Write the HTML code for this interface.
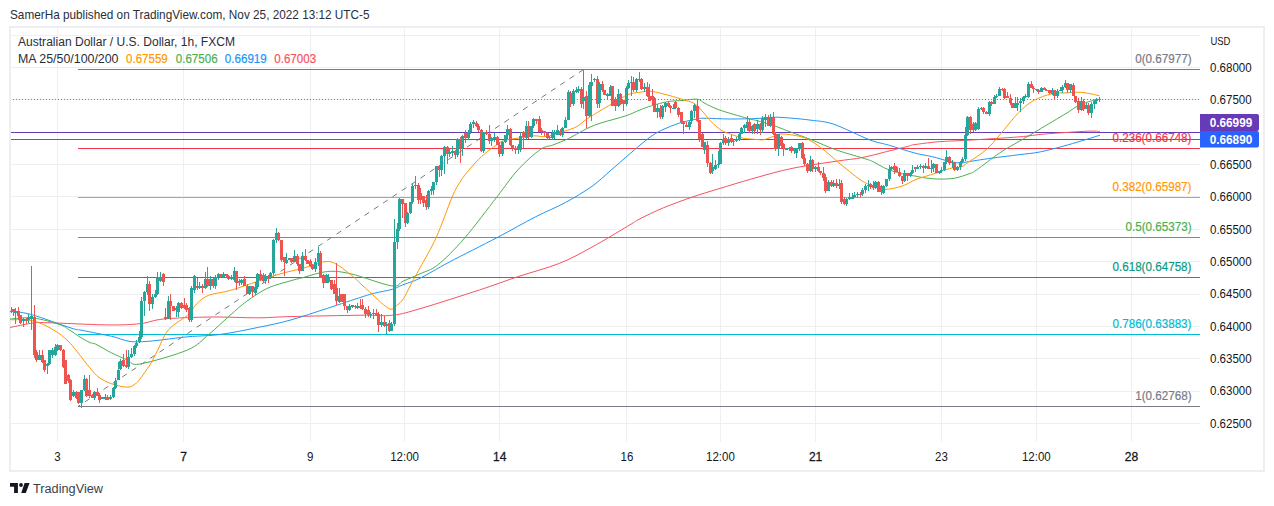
<!DOCTYPE html><html><head><meta charset="utf-8"><style>html,body{margin:0;padding:0;background:#fff;width:1274px;height:506px;overflow:hidden;position:relative}</style></head><body><svg width="1274" height="506" viewBox="0 0 1274 506" style="position:absolute;left:0;top:0">
<rect width="1274" height="506" fill="#fff"/>
<rect x="10" y="27" width="1254" height="444" fill="none" stroke="#eceef3" stroke-width="2"/>
<g stroke="#eeeff1" stroke-width="1">
<line x1="11" y1="35.5" x2="1200" y2="35.5"/>
<line x1="11" y1="67.5" x2="1200" y2="67.5"/>
<line x1="11" y1="99.5" x2="1200" y2="99.5"/>
<line x1="11" y1="132.5" x2="1200" y2="132.5"/>
<line x1="11" y1="164.5" x2="1200" y2="164.5"/>
<line x1="11" y1="196.5" x2="1200" y2="196.5"/>
<line x1="11" y1="229.5" x2="1200" y2="229.5"/>
<line x1="11" y1="261.5" x2="1200" y2="261.5"/>
<line x1="11" y1="294.5" x2="1200" y2="294.5"/>
<line x1="11" y1="326.5" x2="1200" y2="326.5"/>
<line x1="11" y1="358.5" x2="1200" y2="358.5"/>
<line x1="11" y1="391.5" x2="1200" y2="391.5"/>
<line x1="11" y1="423.5" x2="1200" y2="423.5"/>
<line x1="57.5" y1="28" x2="57.5" y2="442"/>
<line x1="183.5" y1="28" x2="183.5" y2="442"/>
<line x1="310.5" y1="28" x2="310.5" y2="442"/>
<line x1="404.5" y1="28" x2="404.5" y2="442"/>
<line x1="499.5" y1="28" x2="499.5" y2="442"/>
<line x1="626.5" y1="28" x2="626.5" y2="442"/>
<line x1="720.5" y1="28" x2="720.5" y2="442"/>
<line x1="815.5" y1="28" x2="815.5" y2="442"/>
<line x1="941.5" y1="28" x2="941.5" y2="442"/>
<line x1="1036.5" y1="28" x2="1036.5" y2="442"/>
<line x1="1131.5" y1="28" x2="1131.5" y2="442"/>
</g>
<line x1="13" y1="99.5" x2="1200" y2="99.5" stroke="#26a69a" stroke-width="1" stroke-dasharray="1,2"/>
<line x1="78" y1="69.5" x2="1200" y2="69.5" stroke="#787b86" stroke-width="1"/>
<line x1="78" y1="148.5" x2="1200" y2="148.5" stroke="#f23645" stroke-width="1"/>
<line x1="78" y1="197.5" x2="1200" y2="197.5" stroke="#ff9800" stroke-width="1"/>
<line x1="78" y1="237.5" x2="1200" y2="237.5" stroke="#4caf50" stroke-width="1"/>
<line x1="78" y1="277.5" x2="1200" y2="277.5" stroke="#089981" stroke-width="1"/>
<line x1="78" y1="334.5" x2="1200" y2="334.5" stroke="#00bcd4" stroke-width="1"/>
<line x1="78" y1="406.5" x2="1200" y2="406.5" stroke="#787b86" stroke-width="1"/>
<line x1="78" y1="406.5" x2="583.5" y2="69.5" stroke="#787b86" stroke-width="1" stroke-dasharray="5.6,5.6" stroke-dashoffset="2.9"/>
<line x1="11" y1="132.5" x2="1200" y2="132.5" stroke="#673ab7" stroke-width="1"/>
<line x1="11" y1="139.5" x2="1200" y2="139.5" stroke="#2962ff" stroke-width="1"/>
<path d="M10.0,327.5 C13.8,326.8 26.8,323.8 33.0,323.0 C39.2,322.2 35.1,322.4 47.4,322.7 C59.7,323.0 91.4,324.7 106.8,324.9 C122.2,325.1 130.5,324.7 140.0,323.7 C149.5,322.7 151.9,320.1 163.7,319.0 C175.5,317.9 195.2,317.2 211.0,317.0 C226.8,316.8 245.4,317.9 258.6,317.8 C271.8,317.7 272.8,317.0 290.0,316.6 C307.2,316.2 344.9,315.4 362.0,315.2 C379.1,315.0 382.8,316.4 392.8,315.2 C402.8,314.0 407.6,312.3 422.0,308.1 C436.4,303.9 463.3,295.2 479.3,290.0 C495.3,284.8 504.5,281.1 517.8,276.7 C531.1,272.3 546.9,268.3 559.3,263.4 C571.7,258.5 580.6,253.3 592.0,247.1 C603.4,240.9 619.5,231.0 627.5,226.3 C635.5,221.6 634.0,221.9 640.0,218.8 C646.0,215.7 655.0,211.3 663.7,207.7 C672.4,204.1 683.0,200.3 692.2,197.1 C701.4,193.9 709.2,191.7 719.0,188.7 C728.8,185.7 740.2,182.2 750.7,179.2 C761.2,176.2 773.1,172.8 782.3,170.6 C791.5,168.4 796.8,167.4 806.0,165.8 C815.2,164.2 828.4,162.4 837.7,161.0 C847.0,159.6 854.2,159.1 862.0,157.6 C869.8,156.1 877.0,154.0 884.7,152.1 C892.4,150.2 903.5,147.4 908.4,146.2 C913.3,145.0 909.1,145.4 914.0,144.7 C918.9,144.0 928.7,142.6 937.7,141.8 C946.7,141.1 954.5,141.0 968.0,140.2 C981.5,139.4 1006.2,137.9 1019.0,136.9 C1031.8,135.9 1033.5,134.9 1044.9,134.0 C1056.3,133.1 1078.4,131.6 1087.6,131.2 C1096.8,130.8 1097.9,131.4 1100.0,131.5" fill="none" stroke="#f7525f" stroke-width="1.0"/>
<path d="M10.0,311.4 C13.5,311.9 20.6,311.6 30.8,314.4 C41.0,317.2 62.3,325.3 71.0,328.0 C79.7,330.7 76.2,329.1 83.0,330.5 C89.8,331.9 102.6,334.4 111.6,336.3 C120.6,338.2 124.4,341.8 137.0,341.9 C149.6,342.0 173.5,338.1 187.4,336.8 C201.3,335.6 208.8,336.0 220.7,334.4 C232.6,332.8 247.1,329.7 258.6,327.3 C270.2,324.9 278.5,323.4 290.0,320.2 C301.5,317.0 315.4,312.2 327.4,308.3 C339.4,304.4 354.2,299.4 362.0,296.9 C369.8,294.4 368.8,294.6 373.9,293.3 C379.0,292.0 388.1,290.6 392.8,289.2 C397.5,287.8 397.8,286.8 402.3,285.0 C406.8,283.2 412.1,282.1 420.0,278.2 C427.9,274.3 436.8,268.7 449.6,261.9 C462.5,255.1 482.8,245.1 497.1,237.6 C511.4,230.1 524.2,222.6 535.6,216.8 C547.0,211.0 555.9,207.7 565.3,202.6 C574.7,197.5 584.4,191.7 592.0,186.3 C599.6,180.9 604.1,176.1 611.2,170.0 C618.3,163.9 627.9,155.4 634.4,149.9 C640.9,144.4 645.4,140.5 650.0,137.2 C654.6,133.9 656.9,132.5 661.9,130.1 C666.9,127.7 674.2,124.8 679.7,123.0 C685.2,121.2 691.1,120.2 695.1,119.4 C699.1,118.6 698.1,118.3 704.0,118.2 C709.9,118.2 721.9,119.0 730.7,119.0 C739.5,119.0 749.8,118.8 757.0,118.5 C764.2,118.2 768.4,117.3 774.0,117.2 C779.6,117.1 784.4,117.6 790.6,118.1 C796.8,118.6 803.8,119.2 811.0,120.2 C818.2,121.2 824.0,121.0 833.7,124.2 C843.4,127.5 860.2,136.2 869.3,139.7 C878.4,143.2 880.7,142.8 888.3,145.0 C895.9,147.2 907.8,151.2 915.0,153.1 C922.2,155.0 926.0,155.2 931.8,156.6 C937.6,158.0 944.7,160.3 949.6,161.4 C954.5,162.5 958.6,163.0 961.4,163.1 C964.2,163.2 961.6,162.8 966.5,162.0 C971.4,161.2 982.0,159.5 990.7,158.3 C999.5,157.1 1010.8,155.8 1019.0,154.7 C1027.2,153.6 1031.9,153.6 1040.2,151.9 C1048.5,150.2 1058.6,147.5 1068.6,144.7 C1078.6,141.9 1094.8,136.8 1100.0,135.2" fill="none" stroke="#2196f3" stroke-width="1.0"/>
<path d="M10.0,319.0 C13.8,318.8 24.8,317.1 33.0,318.0 C41.2,318.9 53.2,322.4 59.3,324.4 C65.4,326.4 66.0,327.9 69.5,330.0 C73.0,332.1 76.6,335.0 80.0,337.1 C83.4,339.2 87.4,341.4 90.0,342.6 C92.6,343.8 92.2,342.5 95.8,344.2 C99.4,345.9 106.3,350.3 111.6,352.9 C116.9,355.5 122.7,358.1 127.4,360.0 C132.1,361.9 130.0,365.7 140.0,364.0 C150.0,362.3 175.9,354.9 187.4,350.0 C198.9,345.1 201.7,340.2 208.8,334.4 C215.9,328.6 223.7,320.9 230.0,315.4 C236.3,309.9 240.5,305.8 246.8,301.2 C253.1,296.6 260.8,291.4 268.0,288.0 C275.2,284.6 284.1,282.8 290.0,281.0 C295.9,279.2 297.5,279.0 303.7,277.4 C309.9,275.8 319.5,272.1 327.4,271.5 C335.3,270.9 340.5,271.5 351.2,273.9 C361.9,276.3 382.8,284.6 391.5,285.8 C400.2,287.0 398.6,283.0 403.4,281.0 C408.1,279.0 414.3,276.5 420.0,273.8 C425.7,271.1 430.4,270.8 437.8,264.9 C445.2,259.0 454.6,249.6 464.5,238.2 C474.4,226.8 488.2,208.1 497.1,196.7 C506.0,185.3 510.6,177.8 517.8,170.0 C524.9,162.2 534.1,153.9 540.0,149.7 C545.9,145.5 548.1,146.9 552.9,145.0 C557.7,143.1 563.4,141.0 568.7,138.5 C574.0,136.0 579.5,132.3 584.5,129.8 C589.5,127.3 592.2,125.9 599.0,123.6 C605.8,121.3 618.5,118.2 625.3,116.0 C632.0,113.8 635.1,111.8 639.5,110.1 C643.9,108.4 646.8,107.2 651.5,105.8 C656.2,104.4 662.5,102.5 667.8,101.6 C673.1,100.7 678.3,100.8 683.2,100.4 C688.1,100.0 693.8,98.7 697.4,99.2 C701.0,99.7 701.3,101.6 705.0,103.4 C708.7,105.2 712.6,107.5 719.6,110.0 C726.6,112.5 741.1,116.5 747.3,118.3 C753.5,120.1 752.5,119.4 757.0,120.6 C761.5,121.8 768.4,123.8 774.0,125.7 C779.6,127.6 784.4,129.7 790.6,132.0 C796.8,134.3 803.4,136.6 811.0,139.6 C818.6,142.6 828.0,147.0 836.5,150.0 C845.0,153.0 855.9,155.9 862.0,157.8 C868.1,159.7 869.1,159.9 872.9,161.6 C876.7,163.3 880.8,166.3 884.7,168.1 C888.7,169.9 892.7,171.1 896.6,172.3 C900.5,173.5 905.3,174.6 908.4,175.2 C911.5,175.8 912.1,175.5 915.0,176.0 C917.9,176.5 921.5,177.5 925.9,178.0 C930.3,178.5 936.4,179.1 941.3,179.1 C946.2,179.1 950.9,178.9 955.5,178.0 C960.1,177.1 965.5,175.1 969.0,173.8 C972.5,172.5 971.4,173.5 976.5,170.0 C981.6,166.5 992.5,157.8 999.6,153.0 C1006.7,148.2 1012.5,145.2 1019.0,141.4 C1025.5,137.6 1030.6,134.7 1038.4,130.0 C1046.2,125.3 1059.8,117.3 1066.0,113.5 C1072.2,109.7 1072.6,108.9 1075.9,107.1 C1079.2,105.3 1082.2,104.1 1085.8,102.7 C1089.4,101.3 1095.6,99.6 1097.6,99.0" fill="none" stroke="#4caf50" stroke-width="1.0"/>
<path d="M10.0,319.7 C13.8,319.9 25.7,319.1 33.0,320.8 C40.3,322.5 47.9,326.6 53.7,330.0 C59.5,333.4 64.0,337.3 68.0,341.0 C72.0,344.7 73.7,347.5 77.4,352.0 C81.1,356.5 86.4,363.8 90.0,368.0 C93.6,372.2 95.4,374.8 99.0,377.4 C102.6,380.0 106.9,382.2 111.6,383.8 C116.3,385.4 123.5,387.2 127.4,387.2 C131.4,387.2 133.2,385.2 135.3,383.8 C137.4,382.4 137.6,382.2 140.0,379.0 C142.4,375.8 147.0,369.5 150.0,364.7 C153.0,359.9 154.7,355.9 157.8,350.0 C160.9,344.1 163.6,335.4 168.5,329.6 C173.4,323.8 182.7,319.8 187.4,315.4 C192.2,311.0 193.4,306.9 197.0,303.5 C200.6,300.1 203.3,297.4 208.8,295.2 C214.3,293.0 221.7,292.9 230.0,290.5 C238.3,288.1 250.3,283.8 258.6,281.0 C266.9,278.2 272.5,276.1 280.0,273.9 C287.5,271.7 296.6,270.0 303.7,268.0 C310.8,266.0 317.5,262.8 322.7,262.0 C327.9,261.2 329.9,261.0 334.6,263.2 C339.4,265.4 346.6,271.4 351.2,275.0 C355.8,278.6 357.8,281.2 362.0,285.0 C366.2,288.8 372.6,294.7 376.2,298.0 C379.8,301.3 380.9,302.7 383.4,304.6 C385.9,306.5 388.9,309.1 391.1,309.3 C393.3,309.5 394.3,307.6 396.4,305.8 C398.5,304.0 401.1,302.1 403.5,298.6 C405.9,295.1 407.9,290.1 410.6,285.0 C413.4,279.9 415.7,275.8 420.0,267.8 C424.3,259.9 431.0,249.1 436.3,237.3 C441.6,225.6 448.1,206.5 452.0,197.3 C455.9,188.1 457.2,186.6 460.0,182.0 C462.8,177.4 465.9,173.8 469.0,170.0 C472.1,166.2 475.2,162.7 478.7,159.3 C482.2,155.9 487.1,151.8 489.8,149.6 C492.5,147.4 492.6,147.6 495.0,146.1 C497.4,144.6 499.4,142.0 503.9,140.6 C508.3,139.2 516.8,138.4 521.7,137.6 C526.6,136.8 529.3,136.0 533.5,135.8 C537.7,135.6 541.9,137.1 547.0,136.4 C552.1,135.7 559.1,133.0 564.0,131.4 C568.9,129.8 572.9,128.7 576.6,126.7 C580.3,124.7 583.5,121.3 586.1,119.5 C588.7,117.7 590.1,117.0 592.4,115.6 C594.7,114.1 596.5,112.9 600.0,110.8 C603.5,108.7 608.8,105.7 613.4,103.0 C618.0,100.3 623.4,96.5 627.7,94.7 C632.1,92.9 635.5,92.8 639.5,92.3 C643.5,91.8 646.8,90.9 651.5,91.4 C656.2,91.9 662.1,93.6 667.8,95.1 C673.5,96.6 681.0,98.9 685.6,100.4 C690.2,101.9 692.0,101.9 695.1,104.0 C698.2,106.1 701.3,110.1 704.0,113.1 C706.7,116.1 708.5,119.0 711.3,121.8 C714.1,124.6 717.8,128.0 721.0,130.1 C724.2,132.2 727.7,133.0 730.7,134.2 C733.7,135.3 736.7,136.3 739.0,137.0 C741.3,137.7 741.5,138.0 744.5,138.4 C747.5,138.8 753.7,139.3 757.0,139.5 C760.3,139.7 761.5,140.2 764.3,139.6 C767.1,139.0 771.5,137.0 774.0,136.1 C776.5,135.2 776.7,134.2 779.5,134.0 C782.3,133.8 786.9,134.2 790.6,134.7 C794.3,135.2 798.2,135.8 801.6,136.8 C805.0,137.9 807.3,138.8 811.0,141.0 C814.7,143.2 819.5,146.5 824.0,150.0 C828.5,153.5 833.5,158.3 837.7,161.9 C842.0,165.5 845.5,168.2 849.5,171.4 C853.5,174.6 858.1,178.6 862.0,181.0 C865.9,183.4 869.1,184.5 872.9,185.9 C876.7,187.3 879.8,189.5 884.7,189.5 C889.6,189.5 897.5,187.5 902.5,185.9 C907.5,184.3 911.1,181.4 915.0,179.8 C918.9,178.2 922.1,177.4 925.9,176.2 C929.7,175.0 933.8,173.9 937.7,172.6 C941.7,171.3 945.7,169.5 949.6,168.5 C953.5,167.5 958.2,167.8 961.4,166.7 C964.6,165.6 965.8,163.9 968.9,161.8 C972.0,159.8 976.4,157.2 980.0,154.5 C983.6,151.8 986.1,150.1 990.2,145.9 C994.3,141.7 999.7,134.8 1004.4,129.3 C1009.1,123.8 1013.9,117.4 1018.6,112.7 C1023.4,108.0 1027.4,104.1 1032.9,100.9 C1038.5,97.7 1046.6,95.0 1051.9,93.7 C1057.2,92.4 1061.7,93.2 1065.0,93.0 C1068.3,92.8 1069.4,92.6 1072.0,92.5 C1074.6,92.4 1077.7,92.1 1080.8,92.3 C1083.9,92.5 1087.6,93.2 1090.7,93.8 C1093.8,94.4 1098.1,95.5 1099.6,95.8" fill="none" stroke="#ff9800" stroke-width="1.0"/>
<clipPath id="pc"><rect x="11" y="28" width="1189" height="414"/></clipPath>
<g shape-rendering="crispEdges" clip-path="url(#pc)">
<rect x="10" y="307" width="1" height="7" fill="#ef5350"/>
<rect x="9" y="307" width="3" height="6" fill="#ef5350"/>
<rect x="13" y="309" width="1" height="7" fill="#ef5350"/>
<rect x="12" y="309" width="3" height="3" fill="#ef5350"/>
<rect x="15" y="308" width="1" height="16" fill="#26a69a"/>
<rect x="14" y="311" width="3" height="2" fill="#26a69a"/>
<rect x="18" y="307" width="1" height="13" fill="#ef5350"/>
<rect x="17" y="311" width="3" height="5" fill="#ef5350"/>
<rect x="20" y="315" width="1" height="9" fill="#ef5350"/>
<rect x="19" y="315" width="3" height="8" fill="#ef5350"/>
<rect x="23" y="318" width="1" height="9" fill="#26a69a"/>
<rect x="22" y="319" width="3" height="2" fill="#26a69a"/>
<rect x="26" y="318" width="1" height="6" fill="#ef5350"/>
<rect x="25" y="319" width="3" height="2" fill="#ef5350"/>
<rect x="28" y="314" width="1" height="9" fill="#26a69a"/>
<rect x="27" y="317" width="3" height="3" fill="#26a69a"/>
<rect x="31" y="266" width="1" height="64" fill="#26a69a"/>
<rect x="30" y="316" width="3" height="3" fill="#26a69a"/>
<rect x="34" y="305" width="1" height="53" fill="#ef5350"/>
<rect x="33" y="317" width="3" height="38" fill="#ef5350"/>
<rect x="36" y="350" width="1" height="12" fill="#ef5350"/>
<rect x="35" y="352" width="3" height="8" fill="#ef5350"/>
<rect x="39" y="350" width="1" height="10" fill="#26a69a"/>
<rect x="38" y="355" width="3" height="5" fill="#26a69a"/>
<rect x="42" y="350" width="1" height="13" fill="#ef5350"/>
<rect x="41" y="355" width="3" height="7" fill="#ef5350"/>
<rect x="44" y="360" width="1" height="12" fill="#ef5350"/>
<rect x="43" y="360" width="3" height="10" fill="#ef5350"/>
<rect x="47" y="363" width="1" height="11" fill="#26a69a"/>
<rect x="46" y="364" width="3" height="2" fill="#26a69a"/>
<rect x="49" y="350" width="1" height="15" fill="#26a69a"/>
<rect x="48" y="350" width="3" height="14" fill="#26a69a"/>
<rect x="52" y="348" width="1" height="10" fill="#26a69a"/>
<rect x="51" y="350" width="3" height="5" fill="#26a69a"/>
<rect x="55" y="344" width="1" height="12" fill="#26a69a"/>
<rect x="54" y="347" width="3" height="8" fill="#26a69a"/>
<rect x="57" y="344" width="1" height="7" fill="#26a69a"/>
<rect x="56" y="345" width="3" height="5" fill="#26a69a"/>
<rect x="60" y="345" width="1" height="6" fill="#ef5350"/>
<rect x="59" y="345" width="3" height="5" fill="#ef5350"/>
<rect x="63" y="349" width="1" height="19" fill="#ef5350"/>
<rect x="62" y="350" width="3" height="17" fill="#ef5350"/>
<rect x="65" y="360" width="1" height="24" fill="#ef5350"/>
<rect x="64" y="360" width="3" height="24" fill="#ef5350"/>
<rect x="68" y="374" width="1" height="9" fill="#ef5350"/>
<rect x="67" y="375" width="3" height="6" fill="#ef5350"/>
<rect x="70" y="379" width="1" height="22" fill="#ef5350"/>
<rect x="69" y="380" width="3" height="20" fill="#ef5350"/>
<rect x="73" y="390" width="1" height="7" fill="#26a69a"/>
<rect x="72" y="392" width="3" height="4" fill="#26a69a"/>
<rect x="76" y="391" width="1" height="8" fill="#ef5350"/>
<rect x="75" y="392" width="3" height="6" fill="#ef5350"/>
<rect x="78" y="392" width="1" height="12" fill="#ef5350"/>
<rect x="77" y="392" width="3" height="11" fill="#ef5350"/>
<rect x="81" y="390" width="1" height="18" fill="#26a69a"/>
<rect x="80" y="390" width="3" height="13" fill="#26a69a"/>
<rect x="84" y="375" width="1" height="16" fill="#26a69a"/>
<rect x="83" y="379" width="3" height="11" fill="#26a69a"/>
<rect x="86" y="378" width="1" height="19" fill="#ef5350"/>
<rect x="85" y="379" width="3" height="17" fill="#ef5350"/>
<rect x="89" y="375" width="1" height="23" fill="#ef5350"/>
<rect x="88" y="390" width="3" height="6" fill="#ef5350"/>
<rect x="92" y="394" width="1" height="4" fill="#ef5350"/>
<rect x="91" y="395" width="3" height="3" fill="#ef5350"/>
<rect x="94" y="391" width="1" height="9" fill="#26a69a"/>
<rect x="93" y="392" width="3" height="6" fill="#26a69a"/>
<rect x="97" y="388" width="1" height="8" fill="#ef5350"/>
<rect x="96" y="392" width="3" height="4" fill="#ef5350"/>
<rect x="99" y="393" width="1" height="10" fill="#ef5350"/>
<rect x="98" y="395" width="3" height="5" fill="#ef5350"/>
<rect x="102" y="397" width="1" height="2" fill="#26a69a"/>
<rect x="101" y="397" width="3" height="2" fill="#26a69a"/>
<rect x="105" y="394" width="1" height="6" fill="#26a69a"/>
<rect x="104" y="397" width="3" height="2" fill="#26a69a"/>
<rect x="107" y="395" width="1" height="5" fill="#ef5350"/>
<rect x="106" y="397" width="3" height="3" fill="#ef5350"/>
<rect x="110" y="395" width="1" height="5" fill="#26a69a"/>
<rect x="109" y="397" width="3" height="2" fill="#26a69a"/>
<rect x="113" y="387" width="1" height="11" fill="#26a69a"/>
<rect x="112" y="388" width="3" height="9" fill="#26a69a"/>
<rect x="115" y="378" width="1" height="11" fill="#26a69a"/>
<rect x="114" y="381" width="3" height="7" fill="#26a69a"/>
<rect x="118" y="362" width="1" height="18" fill="#26a69a"/>
<rect x="117" y="370" width="3" height="10" fill="#26a69a"/>
<rect x="120" y="359" width="1" height="11" fill="#26a69a"/>
<rect x="119" y="361" width="3" height="8" fill="#26a69a"/>
<rect x="123" y="354" width="1" height="13" fill="#ef5350"/>
<rect x="122" y="360" width="3" height="6" fill="#ef5350"/>
<rect x="126" y="350" width="1" height="18" fill="#ef5350"/>
<rect x="125" y="365" width="3" height="2" fill="#ef5350"/>
<rect x="128" y="350" width="1" height="19" fill="#26a69a"/>
<rect x="127" y="357" width="3" height="10" fill="#26a69a"/>
<rect x="131" y="348" width="1" height="10" fill="#26a69a"/>
<rect x="130" y="354" width="3" height="3" fill="#26a69a"/>
<rect x="134" y="345" width="1" height="11" fill="#26a69a"/>
<rect x="133" y="346" width="3" height="8" fill="#26a69a"/>
<rect x="136" y="340" width="1" height="8" fill="#26a69a"/>
<rect x="135" y="343" width="3" height="3" fill="#26a69a"/>
<rect x="139" y="331" width="1" height="12" fill="#26a69a"/>
<rect x="138" y="337" width="3" height="5" fill="#26a69a"/>
<rect x="141" y="297" width="1" height="42" fill="#26a69a"/>
<rect x="140" y="301" width="3" height="36" fill="#26a69a"/>
<rect x="144" y="291" width="1" height="25" fill="#26a69a"/>
<rect x="143" y="292" width="3" height="9" fill="#26a69a"/>
<rect x="147" y="276" width="1" height="19" fill="#26a69a"/>
<rect x="146" y="284" width="3" height="8" fill="#26a69a"/>
<rect x="149" y="281" width="1" height="30" fill="#ef5350"/>
<rect x="148" y="284" width="3" height="20" fill="#ef5350"/>
<rect x="152" y="294" width="1" height="15" fill="#26a69a"/>
<rect x="151" y="297" width="3" height="7" fill="#26a69a"/>
<rect x="155" y="290" width="1" height="8" fill="#26a69a"/>
<rect x="154" y="294" width="3" height="3" fill="#26a69a"/>
<rect x="157" y="272" width="1" height="23" fill="#26a69a"/>
<rect x="156" y="277" width="3" height="17" fill="#26a69a"/>
<rect x="160" y="272" width="1" height="10" fill="#26a69a"/>
<rect x="159" y="277" width="3" height="4" fill="#26a69a"/>
<rect x="163" y="273" width="1" height="13" fill="#ef5350"/>
<rect x="162" y="274" width="3" height="8" fill="#ef5350"/>
<rect x="165" y="308" width="1" height="12" fill="#ef5350"/>
<rect x="164" y="317" width="3" height="2" fill="#ef5350"/>
<rect x="168" y="296" width="1" height="23" fill="#26a69a"/>
<rect x="167" y="301" width="3" height="18" fill="#26a69a"/>
<rect x="170" y="294" width="1" height="26" fill="#ef5350"/>
<rect x="169" y="301" width="3" height="5" fill="#ef5350"/>
<rect x="173" y="306" width="1" height="5" fill="#ef5350"/>
<rect x="172" y="306" width="3" height="5" fill="#ef5350"/>
<rect x="176" y="306" width="1" height="11" fill="#26a69a"/>
<rect x="175" y="308" width="3" height="2" fill="#26a69a"/>
<rect x="178" y="302" width="1" height="15" fill="#26a69a"/>
<rect x="177" y="303" width="3" height="9" fill="#26a69a"/>
<rect x="181" y="302" width="1" height="7" fill="#ef5350"/>
<rect x="180" y="303" width="3" height="5" fill="#ef5350"/>
<rect x="184" y="298" width="1" height="11" fill="#ef5350"/>
<rect x="183" y="305" width="3" height="3" fill="#ef5350"/>
<rect x="186" y="303" width="1" height="9" fill="#ef5350"/>
<rect x="185" y="305" width="3" height="5" fill="#ef5350"/>
<rect x="189" y="307" width="1" height="15" fill="#ef5350"/>
<rect x="188" y="308" width="3" height="12" fill="#ef5350"/>
<rect x="191" y="286" width="1" height="36" fill="#26a69a"/>
<rect x="190" y="288" width="3" height="32" fill="#26a69a"/>
<rect x="194" y="275" width="1" height="18" fill="#26a69a"/>
<rect x="193" y="276" width="3" height="14" fill="#26a69a"/>
<rect x="197" y="278" width="1" height="12" fill="#ef5350"/>
<rect x="196" y="286" width="3" height="2" fill="#ef5350"/>
<rect x="199" y="282" width="1" height="7" fill="#26a69a"/>
<rect x="198" y="286" width="3" height="2" fill="#26a69a"/>
<rect x="202" y="284" width="1" height="9" fill="#ef5350"/>
<rect x="201" y="286" width="3" height="2" fill="#ef5350"/>
<rect x="205" y="272" width="1" height="17" fill="#26a69a"/>
<rect x="204" y="279" width="3" height="9" fill="#26a69a"/>
<rect x="207" y="267" width="1" height="20" fill="#ef5350"/>
<rect x="206" y="279" width="3" height="7" fill="#ef5350"/>
<rect x="210" y="276" width="1" height="14" fill="#26a69a"/>
<rect x="209" y="279" width="3" height="7" fill="#26a69a"/>
<rect x="213" y="278" width="1" height="10" fill="#ef5350"/>
<rect x="212" y="279" width="3" height="7" fill="#ef5350"/>
<rect x="215" y="275" width="1" height="14" fill="#26a69a"/>
<rect x="214" y="277" width="3" height="9" fill="#26a69a"/>
<rect x="218" y="273" width="1" height="7" fill="#26a69a"/>
<rect x="217" y="274" width="3" height="3" fill="#26a69a"/>
<rect x="220" y="274" width="1" height="4" fill="#ef5350"/>
<rect x="219" y="274" width="3" height="3" fill="#ef5350"/>
<rect x="223" y="272" width="1" height="6" fill="#26a69a"/>
<rect x="222" y="274" width="3" height="3" fill="#26a69a"/>
<rect x="226" y="274" width="1" height="4" fill="#ef5350"/>
<rect x="225" y="274" width="3" height="2" fill="#ef5350"/>
<rect x="228" y="275" width="1" height="5" fill="#ef5350"/>
<rect x="227" y="276" width="3" height="3" fill="#ef5350"/>
<rect x="231" y="275" width="1" height="5" fill="#26a69a"/>
<rect x="230" y="277" width="3" height="2" fill="#26a69a"/>
<rect x="234" y="267" width="1" height="15" fill="#26a69a"/>
<rect x="233" y="271" width="3" height="9" fill="#26a69a"/>
<rect x="236" y="271" width="1" height="19" fill="#ef5350"/>
<rect x="235" y="271" width="3" height="12" fill="#ef5350"/>
<rect x="239" y="279" width="1" height="7" fill="#ef5350"/>
<rect x="238" y="281" width="3" height="2" fill="#ef5350"/>
<rect x="241" y="279" width="1" height="6" fill="#26a69a"/>
<rect x="240" y="280" width="3" height="3" fill="#26a69a"/>
<rect x="244" y="276" width="1" height="10" fill="#ef5350"/>
<rect x="243" y="279" width="3" height="7" fill="#ef5350"/>
<rect x="247" y="284" width="1" height="10" fill="#ef5350"/>
<rect x="246" y="286" width="3" height="8" fill="#ef5350"/>
<rect x="249" y="286" width="1" height="9" fill="#26a69a"/>
<rect x="248" y="286" width="3" height="8" fill="#26a69a"/>
<rect x="252" y="286" width="1" height="11" fill="#ef5350"/>
<rect x="251" y="286" width="3" height="6" fill="#ef5350"/>
<rect x="255" y="282" width="1" height="13" fill="#26a69a"/>
<rect x="254" y="287" width="3" height="6" fill="#26a69a"/>
<rect x="257" y="273" width="1" height="16" fill="#26a69a"/>
<rect x="256" y="274" width="3" height="13" fill="#26a69a"/>
<rect x="260" y="270" width="1" height="11" fill="#ef5350"/>
<rect x="259" y="274" width="3" height="6" fill="#ef5350"/>
<rect x="263" y="273" width="1" height="10" fill="#ef5350"/>
<rect x="262" y="275" width="3" height="6" fill="#ef5350"/>
<rect x="265" y="274" width="1" height="10" fill="#26a69a"/>
<rect x="264" y="276" width="3" height="5" fill="#26a69a"/>
<rect x="268" y="275" width="1" height="8" fill="#ef5350"/>
<rect x="267" y="276" width="3" height="3" fill="#ef5350"/>
<rect x="270" y="272" width="1" height="7" fill="#26a69a"/>
<rect x="269" y="273" width="3" height="5" fill="#26a69a"/>
<rect x="273" y="239" width="1" height="36" fill="#26a69a"/>
<rect x="272" y="240" width="3" height="33" fill="#26a69a"/>
<rect x="276" y="228" width="1" height="15" fill="#26a69a"/>
<rect x="275" y="233" width="3" height="7" fill="#26a69a"/>
<rect x="278" y="232" width="1" height="9" fill="#ef5350"/>
<rect x="277" y="233" width="3" height="7" fill="#ef5350"/>
<rect x="281" y="240" width="1" height="22" fill="#ef5350"/>
<rect x="280" y="240" width="3" height="20" fill="#ef5350"/>
<rect x="284" y="257" width="1" height="19" fill="#ef5350"/>
<rect x="283" y="257" width="3" height="5" fill="#ef5350"/>
<rect x="286" y="253" width="1" height="11" fill="#26a69a"/>
<rect x="285" y="260" width="3" height="3" fill="#26a69a"/>
<rect x="289" y="258" width="1" height="2" fill="#26a69a"/>
<rect x="288" y="258" width="3" height="2" fill="#26a69a"/>
<rect x="291" y="258" width="1" height="5" fill="#ef5350"/>
<rect x="290" y="258" width="3" height="4" fill="#ef5350"/>
<rect x="294" y="250" width="1" height="12" fill="#26a69a"/>
<rect x="293" y="256" width="3" height="6" fill="#26a69a"/>
<rect x="297" y="254" width="1" height="12" fill="#ef5350"/>
<rect x="296" y="256" width="3" height="8" fill="#ef5350"/>
<rect x="299" y="264" width="1" height="10" fill="#ef5350"/>
<rect x="298" y="264" width="3" height="7" fill="#ef5350"/>
<rect x="302" y="252" width="1" height="19" fill="#26a69a"/>
<rect x="301" y="256" width="3" height="15" fill="#26a69a"/>
<rect x="305" y="249" width="1" height="12" fill="#ef5350"/>
<rect x="304" y="256" width="3" height="4" fill="#ef5350"/>
<rect x="307" y="260" width="1" height="4" fill="#ef5350"/>
<rect x="306" y="260" width="3" height="4" fill="#ef5350"/>
<rect x="310" y="259" width="1" height="8" fill="#ef5350"/>
<rect x="309" y="261" width="3" height="5" fill="#ef5350"/>
<rect x="312" y="264" width="1" height="6" fill="#ef5350"/>
<rect x="311" y="265" width="3" height="4" fill="#ef5350"/>
<rect x="315" y="258" width="1" height="14" fill="#26a69a"/>
<rect x="314" y="262" width="3" height="7" fill="#26a69a"/>
<rect x="318" y="247" width="1" height="19" fill="#26a69a"/>
<rect x="317" y="253" width="3" height="9" fill="#26a69a"/>
<rect x="320" y="251" width="1" height="27" fill="#ef5350"/>
<rect x="319" y="253" width="3" height="25" fill="#ef5350"/>
<rect x="323" y="274" width="1" height="14" fill="#ef5350"/>
<rect x="322" y="275" width="3" height="8" fill="#ef5350"/>
<rect x="326" y="274" width="1" height="9" fill="#26a69a"/>
<rect x="325" y="275" width="3" height="8" fill="#26a69a"/>
<rect x="328" y="274" width="1" height="9" fill="#26a69a"/>
<rect x="327" y="278" width="3" height="4" fill="#26a69a"/>
<rect x="331" y="280" width="1" height="10" fill="#ef5350"/>
<rect x="330" y="280" width="3" height="9" fill="#ef5350"/>
<rect x="334" y="280" width="1" height="14" fill="#ef5350"/>
<rect x="333" y="284" width="3" height="10" fill="#ef5350"/>
<rect x="336" y="263" width="1" height="42" fill="#ef5350"/>
<rect x="335" y="288" width="3" height="13" fill="#ef5350"/>
<rect x="339" y="288" width="1" height="15" fill="#26a69a"/>
<rect x="338" y="296" width="3" height="6" fill="#26a69a"/>
<rect x="341" y="294" width="1" height="8" fill="#ef5350"/>
<rect x="340" y="294" width="3" height="8" fill="#ef5350"/>
<rect x="344" y="294" width="1" height="16" fill="#ef5350"/>
<rect x="343" y="294" width="3" height="12" fill="#ef5350"/>
<rect x="347" y="306" width="1" height="7" fill="#ef5350"/>
<rect x="346" y="306" width="3" height="4" fill="#ef5350"/>
<rect x="349" y="304" width="1" height="7" fill="#26a69a"/>
<rect x="348" y="306" width="3" height="4" fill="#26a69a"/>
<rect x="352" y="305" width="1" height="3" fill="#26a69a"/>
<rect x="351" y="305" width="3" height="2" fill="#26a69a"/>
<rect x="355" y="305" width="1" height="4" fill="#ef5350"/>
<rect x="354" y="306" width="3" height="1" fill="#ef5350"/>
<rect x="357" y="303" width="1" height="6" fill="#26a69a"/>
<rect x="356" y="306" width="3" height="2" fill="#26a69a"/>
<rect x="360" y="299" width="1" height="10" fill="#ef5350"/>
<rect x="359" y="306" width="3" height="2" fill="#ef5350"/>
<rect x="362" y="299" width="1" height="11" fill="#ef5350"/>
<rect x="361" y="305" width="3" height="4" fill="#ef5350"/>
<rect x="365" y="307" width="1" height="11" fill="#ef5350"/>
<rect x="364" y="309" width="3" height="5" fill="#ef5350"/>
<rect x="368" y="306" width="1" height="11" fill="#ef5350"/>
<rect x="367" y="310" width="3" height="5" fill="#ef5350"/>
<rect x="370" y="312" width="1" height="6" fill="#26a69a"/>
<rect x="369" y="314" width="3" height="1" fill="#26a69a"/>
<rect x="373" y="309" width="1" height="10" fill="#26a69a"/>
<rect x="372" y="313" width="3" height="1" fill="#26a69a"/>
<rect x="376" y="309" width="1" height="7" fill="#ef5350"/>
<rect x="375" y="313" width="3" height="2" fill="#ef5350"/>
<rect x="378" y="312" width="1" height="20" fill="#ef5350"/>
<rect x="377" y="314" width="3" height="11" fill="#ef5350"/>
<rect x="381" y="314" width="1" height="13" fill="#26a69a"/>
<rect x="380" y="322" width="3" height="3" fill="#26a69a"/>
<rect x="384" y="316" width="1" height="11" fill="#ef5350"/>
<rect x="383" y="322" width="3" height="4" fill="#ef5350"/>
<rect x="386" y="322" width="1" height="12" fill="#26a69a"/>
<rect x="385" y="324" width="3" height="2" fill="#26a69a"/>
<rect x="389" y="320" width="1" height="12" fill="#ef5350"/>
<rect x="388" y="323" width="3" height="8" fill="#ef5350"/>
<rect x="391" y="322" width="1" height="9" fill="#26a69a"/>
<rect x="390" y="324" width="3" height="7" fill="#26a69a"/>
<rect x="394" y="219" width="1" height="107" fill="#26a69a"/>
<rect x="393" y="242" width="3" height="82" fill="#26a69a"/>
<rect x="397" y="223" width="1" height="26" fill="#26a69a"/>
<rect x="396" y="229" width="3" height="13" fill="#26a69a"/>
<rect x="399" y="198" width="1" height="33" fill="#26a69a"/>
<rect x="398" y="199" width="3" height="30" fill="#26a69a"/>
<rect x="402" y="199" width="1" height="19" fill="#ef5350"/>
<rect x="401" y="199" width="3" height="5" fill="#ef5350"/>
<rect x="405" y="203" width="1" height="24" fill="#ef5350"/>
<rect x="404" y="203" width="3" height="20" fill="#ef5350"/>
<rect x="407" y="212" width="1" height="12" fill="#26a69a"/>
<rect x="406" y="213" width="3" height="10" fill="#26a69a"/>
<rect x="410" y="202" width="1" height="12" fill="#26a69a"/>
<rect x="409" y="202" width="3" height="11" fill="#26a69a"/>
<rect x="412" y="184" width="1" height="20" fill="#26a69a"/>
<rect x="411" y="186" width="3" height="16" fill="#26a69a"/>
<rect x="415" y="176" width="1" height="13" fill="#26a69a"/>
<rect x="414" y="185" width="3" height="1" fill="#26a69a"/>
<rect x="418" y="183" width="1" height="21" fill="#ef5350"/>
<rect x="417" y="185" width="3" height="15" fill="#ef5350"/>
<rect x="420" y="188" width="1" height="16" fill="#ef5350"/>
<rect x="419" y="193" width="3" height="7" fill="#ef5350"/>
<rect x="423" y="196" width="1" height="11" fill="#ef5350"/>
<rect x="422" y="196" width="3" height="7" fill="#ef5350"/>
<rect x="426" y="195" width="1" height="15" fill="#ef5350"/>
<rect x="425" y="200" width="3" height="7" fill="#ef5350"/>
<rect x="428" y="190" width="1" height="19" fill="#26a69a"/>
<rect x="427" y="191" width="3" height="16" fill="#26a69a"/>
<rect x="431" y="186" width="1" height="9" fill="#26a69a"/>
<rect x="430" y="189" width="3" height="2" fill="#26a69a"/>
<rect x="433" y="182" width="1" height="13" fill="#26a69a"/>
<rect x="432" y="182" width="3" height="8" fill="#26a69a"/>
<rect x="436" y="166" width="1" height="19" fill="#26a69a"/>
<rect x="435" y="166" width="3" height="16" fill="#26a69a"/>
<rect x="439" y="166" width="1" height="11" fill="#ef5350"/>
<rect x="438" y="166" width="3" height="4" fill="#ef5350"/>
<rect x="441" y="155" width="1" height="21" fill="#26a69a"/>
<rect x="440" y="156" width="3" height="14" fill="#26a69a"/>
<rect x="444" y="146" width="1" height="28" fill="#26a69a"/>
<rect x="443" y="147" width="3" height="9" fill="#26a69a"/>
<rect x="447" y="146" width="1" height="18" fill="#ef5350"/>
<rect x="446" y="147" width="3" height="7" fill="#ef5350"/>
<rect x="449" y="148" width="1" height="9" fill="#26a69a"/>
<rect x="448" y="152" width="3" height="2" fill="#26a69a"/>
<rect x="452" y="146" width="1" height="10" fill="#26a69a"/>
<rect x="451" y="151" width="3" height="2" fill="#26a69a"/>
<rect x="455" y="150" width="1" height="9" fill="#ef5350"/>
<rect x="454" y="151" width="3" height="4" fill="#ef5350"/>
<rect x="457" y="138" width="1" height="19" fill="#26a69a"/>
<rect x="456" y="139" width="3" height="16" fill="#26a69a"/>
<rect x="460" y="137" width="1" height="26" fill="#ef5350"/>
<rect x="459" y="139" width="3" height="9" fill="#ef5350"/>
<rect x="462" y="135" width="1" height="21" fill="#26a69a"/>
<rect x="461" y="136" width="3" height="12" fill="#26a69a"/>
<rect x="465" y="130" width="1" height="13" fill="#ef5350"/>
<rect x="464" y="133" width="3" height="5" fill="#ef5350"/>
<rect x="468" y="130" width="1" height="10" fill="#26a69a"/>
<rect x="467" y="132" width="3" height="6" fill="#26a69a"/>
<rect x="470" y="122" width="1" height="12" fill="#26a69a"/>
<rect x="469" y="124" width="3" height="8" fill="#26a69a"/>
<rect x="473" y="120" width="1" height="8" fill="#26a69a"/>
<rect x="472" y="122" width="3" height="2" fill="#26a69a"/>
<rect x="476" y="121" width="1" height="6" fill="#ef5350"/>
<rect x="475" y="123" width="3" height="3" fill="#ef5350"/>
<rect x="478" y="124" width="1" height="8" fill="#ef5350"/>
<rect x="477" y="126" width="3" height="4" fill="#ef5350"/>
<rect x="481" y="129" width="1" height="23" fill="#ef5350"/>
<rect x="480" y="130" width="3" height="21" fill="#ef5350"/>
<rect x="483" y="132" width="1" height="21" fill="#26a69a"/>
<rect x="482" y="132" width="3" height="19" fill="#26a69a"/>
<rect x="486" y="130" width="1" height="5" fill="#ef5350"/>
<rect x="485" y="132" width="3" height="2" fill="#ef5350"/>
<rect x="489" y="125" width="1" height="19" fill="#ef5350"/>
<rect x="488" y="134" width="3" height="7" fill="#ef5350"/>
<rect x="491" y="137" width="1" height="9" fill="#26a69a"/>
<rect x="490" y="138" width="3" height="3" fill="#26a69a"/>
<rect x="494" y="133" width="1" height="9" fill="#26a69a"/>
<rect x="493" y="137" width="3" height="2" fill="#26a69a"/>
<rect x="497" y="136" width="1" height="9" fill="#ef5350"/>
<rect x="496" y="137" width="3" height="8" fill="#ef5350"/>
<rect x="499" y="142" width="1" height="15" fill="#ef5350"/>
<rect x="498" y="145" width="3" height="9" fill="#ef5350"/>
<rect x="502" y="141" width="1" height="15" fill="#26a69a"/>
<rect x="501" y="142" width="3" height="12" fill="#26a69a"/>
<rect x="505" y="135" width="1" height="8" fill="#26a69a"/>
<rect x="504" y="135" width="3" height="7" fill="#26a69a"/>
<rect x="507" y="125" width="1" height="14" fill="#26a69a"/>
<rect x="506" y="129" width="3" height="6" fill="#26a69a"/>
<rect x="510" y="128" width="1" height="18" fill="#ef5350"/>
<rect x="509" y="129" width="3" height="16" fill="#ef5350"/>
<rect x="512" y="145" width="1" height="6" fill="#ef5350"/>
<rect x="511" y="145" width="3" height="3" fill="#ef5350"/>
<rect x="515" y="146" width="1" height="8" fill="#ef5350"/>
<rect x="514" y="148" width="3" height="2" fill="#ef5350"/>
<rect x="518" y="144" width="1" height="10" fill="#26a69a"/>
<rect x="517" y="146" width="3" height="4" fill="#26a69a"/>
<rect x="520" y="132" width="1" height="20" fill="#26a69a"/>
<rect x="519" y="136" width="3" height="14" fill="#26a69a"/>
<rect x="523" y="131" width="1" height="17" fill="#ef5350"/>
<rect x="522" y="132" width="3" height="5" fill="#ef5350"/>
<rect x="526" y="121" width="1" height="19" fill="#26a69a"/>
<rect x="525" y="126" width="3" height="12" fill="#26a69a"/>
<rect x="528" y="121" width="1" height="18" fill="#ef5350"/>
<rect x="527" y="126" width="3" height="11" fill="#ef5350"/>
<rect x="531" y="126" width="1" height="12" fill="#26a69a"/>
<rect x="530" y="126" width="3" height="11" fill="#26a69a"/>
<rect x="533" y="118" width="1" height="10" fill="#26a69a"/>
<rect x="532" y="119" width="3" height="7" fill="#26a69a"/>
<rect x="536" y="119" width="1" height="5" fill="#ef5350"/>
<rect x="535" y="119" width="3" height="2" fill="#ef5350"/>
<rect x="539" y="116" width="1" height="16" fill="#ef5350"/>
<rect x="538" y="119" width="3" height="13" fill="#ef5350"/>
<rect x="541" y="128" width="1" height="7" fill="#ef5350"/>
<rect x="540" y="130" width="3" height="2" fill="#ef5350"/>
<rect x="544" y="131" width="1" height="5" fill="#ef5350"/>
<rect x="543" y="131" width="3" height="2" fill="#ef5350"/>
<rect x="547" y="132" width="1" height="8" fill="#ef5350"/>
<rect x="546" y="133" width="3" height="5" fill="#ef5350"/>
<rect x="549" y="136" width="1" height="3" fill="#ef5350"/>
<rect x="548" y="137" width="3" height="1" fill="#ef5350"/>
<rect x="552" y="130" width="1" height="10" fill="#26a69a"/>
<rect x="551" y="133" width="3" height="5" fill="#26a69a"/>
<rect x="554" y="130" width="1" height="9" fill="#26a69a"/>
<rect x="553" y="132" width="3" height="2" fill="#26a69a"/>
<rect x="557" y="125" width="1" height="10" fill="#26a69a"/>
<rect x="556" y="130" width="3" height="5" fill="#26a69a"/>
<rect x="560" y="129" width="1" height="7" fill="#ef5350"/>
<rect x="559" y="131" width="3" height="4" fill="#ef5350"/>
<rect x="562" y="127" width="1" height="10" fill="#26a69a"/>
<rect x="561" y="128" width="3" height="7" fill="#26a69a"/>
<rect x="565" y="117" width="1" height="11" fill="#26a69a"/>
<rect x="564" y="120" width="3" height="8" fill="#26a69a"/>
<rect x="568" y="90" width="1" height="30" fill="#26a69a"/>
<rect x="567" y="92" width="3" height="28" fill="#26a69a"/>
<rect x="570" y="91" width="1" height="16" fill="#ef5350"/>
<rect x="569" y="93" width="3" height="11" fill="#ef5350"/>
<rect x="573" y="89" width="1" height="17" fill="#26a69a"/>
<rect x="572" y="91" width="3" height="13" fill="#26a69a"/>
<rect x="576" y="87" width="1" height="6" fill="#26a69a"/>
<rect x="575" y="90" width="3" height="2" fill="#26a69a"/>
<rect x="578" y="86" width="1" height="7" fill="#26a69a"/>
<rect x="577" y="89" width="3" height="2" fill="#26a69a"/>
<rect x="581" y="87" width="1" height="21" fill="#ef5350"/>
<rect x="580" y="89" width="3" height="15" fill="#ef5350"/>
<rect x="583" y="69" width="1" height="40" fill="#26a69a"/>
<rect x="582" y="97" width="3" height="4" fill="#26a69a"/>
<rect x="586" y="91" width="1" height="37" fill="#ef5350"/>
<rect x="585" y="96" width="3" height="20" fill="#ef5350"/>
<rect x="589" y="82" width="1" height="35" fill="#26a69a"/>
<rect x="588" y="85" width="3" height="31" fill="#26a69a"/>
<rect x="591" y="74" width="1" height="47" fill="#26a69a"/>
<rect x="590" y="82" width="3" height="4" fill="#26a69a"/>
<rect x="594" y="78" width="1" height="4" fill="#26a69a"/>
<rect x="593" y="79" width="3" height="1" fill="#26a69a"/>
<rect x="597" y="76" width="1" height="32" fill="#ef5350"/>
<rect x="596" y="79" width="3" height="25" fill="#ef5350"/>
<rect x="599" y="82" width="1" height="26" fill="#26a69a"/>
<rect x="598" y="84" width="3" height="19" fill="#26a69a"/>
<rect x="602" y="81" width="1" height="11" fill="#ef5350"/>
<rect x="601" y="84" width="3" height="6" fill="#ef5350"/>
<rect x="604" y="90" width="1" height="5" fill="#ef5350"/>
<rect x="603" y="90" width="3" height="5" fill="#ef5350"/>
<rect x="607" y="93" width="1" height="6" fill="#26a69a"/>
<rect x="606" y="94" width="3" height="2" fill="#26a69a"/>
<rect x="610" y="85" width="1" height="11" fill="#26a69a"/>
<rect x="609" y="87" width="3" height="9" fill="#26a69a"/>
<rect x="612" y="86" width="1" height="20" fill="#ef5350"/>
<rect x="611" y="86" width="3" height="20" fill="#ef5350"/>
<rect x="615" y="97" width="1" height="14" fill="#ef5350"/>
<rect x="614" y="99" width="3" height="7" fill="#ef5350"/>
<rect x="618" y="89" width="1" height="18" fill="#26a69a"/>
<rect x="617" y="94" width="3" height="12" fill="#26a69a"/>
<rect x="620" y="93" width="1" height="12" fill="#ef5350"/>
<rect x="619" y="94" width="3" height="10" fill="#ef5350"/>
<rect x="623" y="100" width="1" height="11" fill="#ef5350"/>
<rect x="622" y="100" width="3" height="4" fill="#ef5350"/>
<rect x="626" y="86" width="1" height="20" fill="#26a69a"/>
<rect x="625" y="88" width="3" height="16" fill="#26a69a"/>
<rect x="628" y="80" width="1" height="9" fill="#26a69a"/>
<rect x="627" y="83" width="3" height="5" fill="#26a69a"/>
<rect x="631" y="76" width="1" height="20" fill="#26a69a"/>
<rect x="630" y="82" width="3" height="1" fill="#26a69a"/>
<rect x="633" y="77" width="1" height="15" fill="#ef5350"/>
<rect x="632" y="82" width="3" height="8" fill="#ef5350"/>
<rect x="636" y="78" width="1" height="14" fill="#26a69a"/>
<rect x="635" y="79" width="3" height="11" fill="#26a69a"/>
<rect x="639" y="72" width="1" height="10" fill="#26a69a"/>
<rect x="638" y="79" width="3" height="1" fill="#26a69a"/>
<rect x="641" y="78" width="1" height="12" fill="#ef5350"/>
<rect x="640" y="79" width="3" height="10" fill="#ef5350"/>
<rect x="644" y="83" width="1" height="9" fill="#26a69a"/>
<rect x="643" y="87" width="3" height="2" fill="#26a69a"/>
<rect x="647" y="82" width="1" height="15" fill="#ef5350"/>
<rect x="646" y="87" width="3" height="9" fill="#ef5350"/>
<rect x="649" y="84" width="1" height="17" fill="#ef5350"/>
<rect x="648" y="96" width="3" height="5" fill="#ef5350"/>
<rect x="652" y="89" width="1" height="16" fill="#ef5350"/>
<rect x="651" y="96" width="3" height="4" fill="#ef5350"/>
<rect x="654" y="97" width="1" height="15" fill="#ef5350"/>
<rect x="653" y="98" width="3" height="14" fill="#ef5350"/>
<rect x="657" y="104" width="1" height="14" fill="#26a69a"/>
<rect x="656" y="108" width="3" height="4" fill="#26a69a"/>
<rect x="660" y="105" width="1" height="14" fill="#ef5350"/>
<rect x="659" y="108" width="3" height="9" fill="#ef5350"/>
<rect x="662" y="105" width="1" height="14" fill="#26a69a"/>
<rect x="661" y="106" width="3" height="11" fill="#26a69a"/>
<rect x="665" y="102" width="1" height="10" fill="#26a69a"/>
<rect x="664" y="103" width="3" height="4" fill="#26a69a"/>
<rect x="668" y="101" width="1" height="6" fill="#ef5350"/>
<rect x="667" y="103" width="3" height="3" fill="#ef5350"/>
<rect x="670" y="105" width="1" height="8" fill="#ef5350"/>
<rect x="669" y="106" width="3" height="2" fill="#ef5350"/>
<rect x="673" y="104" width="1" height="5" fill="#26a69a"/>
<rect x="672" y="108" width="3" height="1" fill="#26a69a"/>
<rect x="675" y="101" width="1" height="8" fill="#ef5350"/>
<rect x="674" y="102" width="3" height="6" fill="#ef5350"/>
<rect x="678" y="107" width="1" height="10" fill="#ef5350"/>
<rect x="677" y="108" width="3" height="7" fill="#ef5350"/>
<rect x="681" y="112" width="1" height="12" fill="#ef5350"/>
<rect x="680" y="112" width="3" height="10" fill="#ef5350"/>
<rect x="683" y="121" width="1" height="13" fill="#ef5350"/>
<rect x="682" y="122" width="3" height="2" fill="#ef5350"/>
<rect x="686" y="122" width="1" height="5" fill="#ef5350"/>
<rect x="685" y="125" width="3" height="2" fill="#ef5350"/>
<rect x="689" y="121" width="1" height="9" fill="#26a69a"/>
<rect x="688" y="122" width="3" height="5" fill="#26a69a"/>
<rect x="691" y="110" width="1" height="14" fill="#26a69a"/>
<rect x="690" y="111" width="3" height="10" fill="#26a69a"/>
<rect x="694" y="104" width="1" height="14" fill="#26a69a"/>
<rect x="693" y="105" width="3" height="6" fill="#26a69a"/>
<rect x="697" y="100" width="1" height="22" fill="#ef5350"/>
<rect x="696" y="106" width="3" height="15" fill="#ef5350"/>
<rect x="699" y="120" width="1" height="22" fill="#ef5350"/>
<rect x="698" y="120" width="3" height="19" fill="#ef5350"/>
<rect x="702" y="133" width="1" height="14" fill="#ef5350"/>
<rect x="701" y="134" width="3" height="13" fill="#ef5350"/>
<rect x="704" y="142" width="1" height="12" fill="#26a69a"/>
<rect x="703" y="142" width="3" height="8" fill="#26a69a"/>
<rect x="707" y="141" width="1" height="26" fill="#ef5350"/>
<rect x="706" y="145" width="3" height="18" fill="#ef5350"/>
<rect x="710" y="162" width="1" height="12" fill="#ef5350"/>
<rect x="709" y="163" width="3" height="10" fill="#ef5350"/>
<rect x="712" y="154" width="1" height="20" fill="#26a69a"/>
<rect x="711" y="167" width="3" height="4" fill="#26a69a"/>
<rect x="715" y="160" width="1" height="10" fill="#26a69a"/>
<rect x="714" y="165" width="3" height="4" fill="#26a69a"/>
<rect x="718" y="151" width="1" height="17" fill="#26a69a"/>
<rect x="717" y="164" width="3" height="1" fill="#26a69a"/>
<rect x="720" y="142" width="1" height="22" fill="#26a69a"/>
<rect x="719" y="143" width="3" height="21" fill="#26a69a"/>
<rect x="723" y="134" width="1" height="11" fill="#26a69a"/>
<rect x="722" y="139" width="3" height="4" fill="#26a69a"/>
<rect x="725" y="136" width="1" height="9" fill="#ef5350"/>
<rect x="724" y="138" width="3" height="5" fill="#ef5350"/>
<rect x="728" y="137" width="1" height="9" fill="#26a69a"/>
<rect x="727" y="139" width="3" height="4" fill="#26a69a"/>
<rect x="731" y="135" width="1" height="8" fill="#ef5350"/>
<rect x="730" y="138" width="3" height="4" fill="#ef5350"/>
<rect x="733" y="140" width="1" height="6" fill="#26a69a"/>
<rect x="732" y="141" width="3" height="1" fill="#26a69a"/>
<rect x="736" y="137" width="1" height="5" fill="#26a69a"/>
<rect x="735" y="139" width="3" height="2" fill="#26a69a"/>
<rect x="739" y="132" width="1" height="9" fill="#26a69a"/>
<rect x="738" y="134" width="3" height="6" fill="#26a69a"/>
<rect x="741" y="127" width="1" height="7" fill="#26a69a"/>
<rect x="740" y="128" width="3" height="6" fill="#26a69a"/>
<rect x="744" y="124" width="1" height="9" fill="#26a69a"/>
<rect x="743" y="125" width="3" height="3" fill="#26a69a"/>
<rect x="747" y="116" width="1" height="15" fill="#26a69a"/>
<rect x="746" y="122" width="3" height="6" fill="#26a69a"/>
<rect x="749" y="119" width="1" height="14" fill="#ef5350"/>
<rect x="748" y="122" width="3" height="9" fill="#ef5350"/>
<rect x="752" y="125" width="1" height="9" fill="#26a69a"/>
<rect x="751" y="126" width="3" height="5" fill="#26a69a"/>
<rect x="754" y="123" width="1" height="11" fill="#ef5350"/>
<rect x="753" y="124" width="3" height="7" fill="#ef5350"/>
<rect x="757" y="120" width="1" height="14" fill="#26a69a"/>
<rect x="756" y="124" width="3" height="5" fill="#26a69a"/>
<rect x="760" y="123" width="1" height="12" fill="#ef5350"/>
<rect x="759" y="124" width="3" height="6" fill="#ef5350"/>
<rect x="762" y="116" width="1" height="17" fill="#26a69a"/>
<rect x="761" y="118" width="3" height="12" fill="#26a69a"/>
<rect x="765" y="114" width="1" height="13" fill="#26a69a"/>
<rect x="764" y="117" width="3" height="3" fill="#26a69a"/>
<rect x="768" y="115" width="1" height="11" fill="#ef5350"/>
<rect x="767" y="117" width="3" height="9" fill="#ef5350"/>
<rect x="770" y="114" width="1" height="13" fill="#26a69a"/>
<rect x="769" y="117" width="3" height="9" fill="#26a69a"/>
<rect x="773" y="112" width="1" height="23" fill="#ef5350"/>
<rect x="772" y="117" width="3" height="17" fill="#ef5350"/>
<rect x="775" y="132" width="1" height="19" fill="#ef5350"/>
<rect x="774" y="134" width="3" height="15" fill="#ef5350"/>
<rect x="778" y="134" width="1" height="22" fill="#26a69a"/>
<rect x="777" y="134" width="3" height="15" fill="#26a69a"/>
<rect x="781" y="136" width="1" height="13" fill="#ef5350"/>
<rect x="780" y="137" width="3" height="9" fill="#ef5350"/>
<rect x="783" y="143" width="1" height="13" fill="#ef5350"/>
<rect x="782" y="144" width="3" height="4" fill="#ef5350"/>
<rect x="786" y="148" width="1" height="2" fill="#26a69a"/>
<rect x="785" y="148" width="3" height="2" fill="#26a69a"/>
<rect x="789" y="147" width="1" height="4" fill="#26a69a"/>
<rect x="788" y="148" width="3" height="1" fill="#26a69a"/>
<rect x="791" y="146" width="1" height="7" fill="#ef5350"/>
<rect x="790" y="147" width="3" height="4" fill="#ef5350"/>
<rect x="794" y="148" width="1" height="6" fill="#26a69a"/>
<rect x="793" y="149" width="3" height="2" fill="#26a69a"/>
<rect x="796" y="148" width="1" height="10" fill="#26a69a"/>
<rect x="795" y="149" width="3" height="4" fill="#26a69a"/>
<rect x="799" y="143" width="1" height="8" fill="#26a69a"/>
<rect x="798" y="143" width="3" height="6" fill="#26a69a"/>
<rect x="802" y="142" width="1" height="17" fill="#ef5350"/>
<rect x="801" y="143" width="3" height="15" fill="#ef5350"/>
<rect x="804" y="154" width="1" height="12" fill="#ef5350"/>
<rect x="803" y="158" width="3" height="6" fill="#ef5350"/>
<rect x="807" y="163" width="1" height="10" fill="#ef5350"/>
<rect x="806" y="164" width="3" height="7" fill="#ef5350"/>
<rect x="810" y="156" width="1" height="16" fill="#26a69a"/>
<rect x="809" y="160" width="3" height="11" fill="#26a69a"/>
<rect x="812" y="159" width="1" height="13" fill="#ef5350"/>
<rect x="811" y="160" width="3" height="9" fill="#ef5350"/>
<rect x="815" y="166" width="1" height="6" fill="#26a69a"/>
<rect x="814" y="167" width="3" height="2" fill="#26a69a"/>
<rect x="818" y="162" width="1" height="10" fill="#ef5350"/>
<rect x="817" y="167" width="3" height="4" fill="#ef5350"/>
<rect x="820" y="171" width="1" height="4" fill="#ef5350"/>
<rect x="819" y="171" width="3" height="2" fill="#ef5350"/>
<rect x="823" y="167" width="1" height="14" fill="#ef5350"/>
<rect x="822" y="173" width="3" height="5" fill="#ef5350"/>
<rect x="825" y="174" width="1" height="19" fill="#ef5350"/>
<rect x="824" y="177" width="3" height="14" fill="#ef5350"/>
<rect x="828" y="180" width="1" height="11" fill="#26a69a"/>
<rect x="827" y="182" width="3" height="9" fill="#26a69a"/>
<rect x="831" y="180" width="1" height="7" fill="#ef5350"/>
<rect x="830" y="182" width="3" height="4" fill="#ef5350"/>
<rect x="833" y="180" width="1" height="7" fill="#26a69a"/>
<rect x="832" y="183" width="3" height="3" fill="#26a69a"/>
<rect x="836" y="179" width="1" height="9" fill="#ef5350"/>
<rect x="835" y="183" width="3" height="3" fill="#ef5350"/>
<rect x="839" y="179" width="1" height="10" fill="#26a69a"/>
<rect x="838" y="184" width="3" height="2" fill="#26a69a"/>
<rect x="841" y="180" width="1" height="24" fill="#ef5350"/>
<rect x="840" y="183" width="3" height="19" fill="#ef5350"/>
<rect x="844" y="197" width="1" height="8" fill="#ef5350"/>
<rect x="843" y="199" width="3" height="5" fill="#ef5350"/>
<rect x="846" y="198" width="1" height="8" fill="#26a69a"/>
<rect x="845" y="199" width="3" height="5" fill="#26a69a"/>
<rect x="849" y="193" width="1" height="7" fill="#26a69a"/>
<rect x="848" y="197" width="3" height="2" fill="#26a69a"/>
<rect x="852" y="193" width="1" height="6" fill="#26a69a"/>
<rect x="851" y="197" width="3" height="2" fill="#26a69a"/>
<rect x="854" y="192" width="1" height="6" fill="#26a69a"/>
<rect x="853" y="195" width="3" height="2" fill="#26a69a"/>
<rect x="857" y="192" width="1" height="6" fill="#26a69a"/>
<rect x="856" y="194" width="3" height="1" fill="#26a69a"/>
<rect x="860" y="192" width="1" height="5" fill="#ef5350"/>
<rect x="859" y="194" width="3" height="1" fill="#ef5350"/>
<rect x="862" y="188" width="1" height="8" fill="#26a69a"/>
<rect x="861" y="190" width="3" height="4" fill="#26a69a"/>
<rect x="865" y="184" width="1" height="9" fill="#26a69a"/>
<rect x="864" y="186" width="3" height="4" fill="#26a69a"/>
<rect x="868" y="180" width="1" height="11" fill="#26a69a"/>
<rect x="867" y="185" width="3" height="1" fill="#26a69a"/>
<rect x="870" y="183" width="1" height="6" fill="#ef5350"/>
<rect x="869" y="184" width="3" height="3" fill="#ef5350"/>
<rect x="873" y="181" width="1" height="9" fill="#ef5350"/>
<rect x="872" y="185" width="3" height="3" fill="#ef5350"/>
<rect x="875" y="181" width="1" height="8" fill="#26a69a"/>
<rect x="874" y="182" width="3" height="6" fill="#26a69a"/>
<rect x="878" y="181" width="1" height="11" fill="#ef5350"/>
<rect x="877" y="182" width="3" height="10" fill="#ef5350"/>
<rect x="881" y="185" width="1" height="10" fill="#ef5350"/>
<rect x="880" y="186" width="3" height="6" fill="#ef5350"/>
<rect x="883" y="185" width="1" height="9" fill="#26a69a"/>
<rect x="882" y="186" width="3" height="7" fill="#26a69a"/>
<rect x="886" y="179" width="1" height="8" fill="#26a69a"/>
<rect x="885" y="179" width="3" height="7" fill="#26a69a"/>
<rect x="889" y="165" width="1" height="16" fill="#26a69a"/>
<rect x="888" y="169" width="3" height="10" fill="#26a69a"/>
<rect x="891" y="166" width="1" height="4" fill="#26a69a"/>
<rect x="890" y="167" width="3" height="2" fill="#26a69a"/>
<rect x="894" y="163" width="1" height="11" fill="#ef5350"/>
<rect x="893" y="166" width="3" height="4" fill="#ef5350"/>
<rect x="896" y="166" width="1" height="6" fill="#ef5350"/>
<rect x="895" y="167" width="3" height="5" fill="#ef5350"/>
<rect x="899" y="168" width="1" height="9" fill="#ef5350"/>
<rect x="898" y="172" width="3" height="4" fill="#ef5350"/>
<rect x="902" y="176" width="1" height="8" fill="#ef5350"/>
<rect x="901" y="176" width="3" height="5" fill="#ef5350"/>
<rect x="904" y="170" width="1" height="12" fill="#26a69a"/>
<rect x="903" y="173" width="3" height="8" fill="#26a69a"/>
<rect x="907" y="173" width="1" height="8" fill="#ef5350"/>
<rect x="906" y="173" width="3" height="3" fill="#ef5350"/>
<rect x="910" y="172" width="1" height="5" fill="#26a69a"/>
<rect x="909" y="173" width="3" height="3" fill="#26a69a"/>
<rect x="912" y="165" width="1" height="9" fill="#26a69a"/>
<rect x="911" y="170" width="3" height="3" fill="#26a69a"/>
<rect x="915" y="167" width="1" height="5" fill="#ef5350"/>
<rect x="914" y="167" width="3" height="2" fill="#ef5350"/>
<rect x="917" y="165" width="1" height="4" fill="#26a69a"/>
<rect x="916" y="167" width="3" height="2" fill="#26a69a"/>
<rect x="920" y="164" width="1" height="5" fill="#26a69a"/>
<rect x="919" y="166" width="3" height="1" fill="#26a69a"/>
<rect x="923" y="165" width="1" height="8" fill="#ef5350"/>
<rect x="922" y="166" width="3" height="2" fill="#ef5350"/>
<rect x="925" y="163" width="1" height="6" fill="#26a69a"/>
<rect x="924" y="166" width="3" height="2" fill="#26a69a"/>
<rect x="928" y="158" width="1" height="11" fill="#ef5350"/>
<rect x="927" y="166" width="3" height="3" fill="#ef5350"/>
<rect x="931" y="160" width="1" height="13" fill="#26a69a"/>
<rect x="930" y="168" width="3" height="1" fill="#26a69a"/>
<rect x="933" y="163" width="1" height="9" fill="#26a69a"/>
<rect x="932" y="164" width="3" height="4" fill="#26a69a"/>
<rect x="936" y="164" width="1" height="9" fill="#ef5350"/>
<rect x="935" y="164" width="3" height="9" fill="#ef5350"/>
<rect x="939" y="171" width="1" height="3" fill="#26a69a"/>
<rect x="938" y="171" width="3" height="2" fill="#26a69a"/>
<rect x="941" y="167" width="1" height="6" fill="#26a69a"/>
<rect x="940" y="170" width="3" height="1" fill="#26a69a"/>
<rect x="944" y="162" width="1" height="9" fill="#26a69a"/>
<rect x="943" y="162" width="3" height="8" fill="#26a69a"/>
<rect x="946" y="150" width="1" height="14" fill="#26a69a"/>
<rect x="945" y="157" width="3" height="5" fill="#26a69a"/>
<rect x="949" y="156" width="1" height="9" fill="#ef5350"/>
<rect x="948" y="157" width="3" height="6" fill="#ef5350"/>
<rect x="952" y="160" width="1" height="8" fill="#26a69a"/>
<rect x="951" y="162" width="3" height="1" fill="#26a69a"/>
<rect x="954" y="162" width="1" height="9" fill="#ef5350"/>
<rect x="953" y="162" width="3" height="8" fill="#ef5350"/>
<rect x="957" y="166" width="1" height="5" fill="#26a69a"/>
<rect x="956" y="167" width="3" height="3" fill="#26a69a"/>
<rect x="960" y="161" width="1" height="9" fill="#26a69a"/>
<rect x="959" y="162" width="3" height="5" fill="#26a69a"/>
<rect x="962" y="157" width="1" height="6" fill="#26a69a"/>
<rect x="961" y="159" width="3" height="3" fill="#26a69a"/>
<rect x="965" y="127" width="1" height="34" fill="#26a69a"/>
<rect x="964" y="135" width="3" height="24" fill="#26a69a"/>
<rect x="967" y="116" width="1" height="20" fill="#26a69a"/>
<rect x="966" y="117" width="3" height="18" fill="#26a69a"/>
<rect x="970" y="116" width="1" height="18" fill="#ef5350"/>
<rect x="969" y="117" width="3" height="13" fill="#ef5350"/>
<rect x="973" y="122" width="1" height="10" fill="#ef5350"/>
<rect x="972" y="124" width="3" height="6" fill="#ef5350"/>
<rect x="975" y="122" width="1" height="9" fill="#26a69a"/>
<rect x="974" y="123" width="3" height="7" fill="#26a69a"/>
<rect x="978" y="107" width="1" height="23" fill="#26a69a"/>
<rect x="977" y="109" width="3" height="20" fill="#26a69a"/>
<rect x="981" y="107" width="1" height="3" fill="#26a69a"/>
<rect x="980" y="108" width="3" height="1" fill="#26a69a"/>
<rect x="983" y="107" width="1" height="7" fill="#ef5350"/>
<rect x="982" y="108" width="3" height="4" fill="#ef5350"/>
<rect x="986" y="111" width="1" height="3" fill="#ef5350"/>
<rect x="985" y="112" width="3" height="2" fill="#ef5350"/>
<rect x="989" y="101" width="1" height="15" fill="#26a69a"/>
<rect x="988" y="102" width="3" height="12" fill="#26a69a"/>
<rect x="991" y="101" width="1" height="5" fill="#ef5350"/>
<rect x="990" y="102" width="3" height="2" fill="#ef5350"/>
<rect x="994" y="95" width="1" height="9" fill="#26a69a"/>
<rect x="993" y="97" width="3" height="7" fill="#26a69a"/>
<rect x="996" y="94" width="1" height="4" fill="#26a69a"/>
<rect x="995" y="96" width="3" height="1" fill="#26a69a"/>
<rect x="999" y="87" width="1" height="9" fill="#26a69a"/>
<rect x="998" y="89" width="3" height="7" fill="#26a69a"/>
<rect x="1002" y="88" width="1" height="3" fill="#ef5350"/>
<rect x="1001" y="89" width="3" height="1" fill="#ef5350"/>
<rect x="1004" y="88" width="1" height="11" fill="#ef5350"/>
<rect x="1003" y="89" width="3" height="9" fill="#ef5350"/>
<rect x="1007" y="92" width="1" height="6" fill="#ef5350"/>
<rect x="1006" y="96" width="3" height="2" fill="#ef5350"/>
<rect x="1010" y="94" width="1" height="11" fill="#ef5350"/>
<rect x="1009" y="98" width="3" height="5" fill="#ef5350"/>
<rect x="1012" y="103" width="1" height="5" fill="#ef5350"/>
<rect x="1011" y="103" width="3" height="5" fill="#ef5350"/>
<rect x="1015" y="97" width="1" height="11" fill="#26a69a"/>
<rect x="1014" y="103" width="3" height="5" fill="#26a69a"/>
<rect x="1017" y="97" width="1" height="14" fill="#26a69a"/>
<rect x="1016" y="103" width="3" height="2" fill="#26a69a"/>
<rect x="1020" y="98" width="1" height="14" fill="#26a69a"/>
<rect x="1019" y="101" width="3" height="2" fill="#26a69a"/>
<rect x="1023" y="96" width="1" height="8" fill="#26a69a"/>
<rect x="1022" y="97" width="3" height="4" fill="#26a69a"/>
<rect x="1025" y="94" width="1" height="4" fill="#26a69a"/>
<rect x="1024" y="96" width="3" height="1" fill="#26a69a"/>
<rect x="1028" y="82" width="1" height="16" fill="#26a69a"/>
<rect x="1027" y="84" width="3" height="13" fill="#26a69a"/>
<rect x="1031" y="81" width="1" height="7" fill="#ef5350"/>
<rect x="1030" y="84" width="3" height="4" fill="#ef5350"/>
<rect x="1033" y="86" width="1" height="7" fill="#ef5350"/>
<rect x="1032" y="88" width="3" height="1" fill="#ef5350"/>
<rect x="1036" y="89" width="1" height="2" fill="#26a69a"/>
<rect x="1035" y="89" width="3" height="1" fill="#26a69a"/>
<rect x="1038" y="89" width="1" height="5" fill="#ef5350"/>
<rect x="1037" y="90" width="3" height="2" fill="#ef5350"/>
<rect x="1041" y="87" width="1" height="5" fill="#26a69a"/>
<rect x="1040" y="88" width="3" height="4" fill="#26a69a"/>
<rect x="1044" y="87" width="1" height="3" fill="#ef5350"/>
<rect x="1043" y="88" width="3" height="2" fill="#ef5350"/>
<rect x="1046" y="89" width="1" height="1" fill="#ef5350"/>
<rect x="1045" y="90" width="3" height="1" fill="#ef5350"/>
<rect x="1049" y="90" width="1" height="4" fill="#ef5350"/>
<rect x="1048" y="90" width="3" height="3" fill="#ef5350"/>
<rect x="1052" y="88" width="1" height="7" fill="#26a69a"/>
<rect x="1051" y="90" width="3" height="4" fill="#26a69a"/>
<rect x="1054" y="90" width="1" height="9" fill="#ef5350"/>
<rect x="1053" y="90" width="3" height="6" fill="#ef5350"/>
<rect x="1057" y="89" width="1" height="9" fill="#26a69a"/>
<rect x="1056" y="91" width="3" height="5" fill="#26a69a"/>
<rect x="1060" y="87" width="1" height="4" fill="#26a69a"/>
<rect x="1059" y="90" width="3" height="1" fill="#26a69a"/>
<rect x="1062" y="85" width="1" height="8" fill="#26a69a"/>
<rect x="1061" y="87" width="3" height="3" fill="#26a69a"/>
<rect x="1065" y="80" width="1" height="8" fill="#26a69a"/>
<rect x="1064" y="83" width="3" height="4" fill="#26a69a"/>
<rect x="1067" y="83" width="1" height="10" fill="#ef5350"/>
<rect x="1066" y="83" width="3" height="7" fill="#ef5350"/>
<rect x="1070" y="84" width="1" height="9" fill="#26a69a"/>
<rect x="1069" y="84" width="3" height="6" fill="#26a69a"/>
<rect x="1073" y="83" width="1" height="13" fill="#ef5350"/>
<rect x="1072" y="85" width="3" height="11" fill="#ef5350"/>
<rect x="1075" y="96" width="1" height="7" fill="#ef5350"/>
<rect x="1074" y="96" width="3" height="6" fill="#ef5350"/>
<rect x="1078" y="98" width="1" height="15" fill="#ef5350"/>
<rect x="1077" y="101" width="3" height="9" fill="#ef5350"/>
<rect x="1081" y="97" width="1" height="14" fill="#26a69a"/>
<rect x="1080" y="101" width="3" height="9" fill="#26a69a"/>
<rect x="1083" y="99" width="1" height="12" fill="#ef5350"/>
<rect x="1082" y="101" width="3" height="8" fill="#ef5350"/>
<rect x="1086" y="103" width="1" height="6" fill="#26a69a"/>
<rect x="1085" y="105" width="3" height="4" fill="#26a69a"/>
<rect x="1088" y="103" width="1" height="12" fill="#ef5350"/>
<rect x="1087" y="105" width="3" height="8" fill="#ef5350"/>
<rect x="1091" y="102" width="1" height="16" fill="#26a69a"/>
<rect x="1090" y="104" width="3" height="9" fill="#26a69a"/>
<rect x="1094" y="100" width="1" height="9" fill="#26a69a"/>
<rect x="1093" y="101" width="3" height="3" fill="#26a69a"/>
<rect x="1096" y="98" width="1" height="6" fill="#26a69a"/>
<rect x="1095" y="99" width="3" height="2" fill="#26a69a"/>
<rect x="1099" y="97" width="1" height="5" fill="#26a69a"/>
<rect x="1098" y="99" width="3" height="1" fill="#26a69a"/>
</g>
<text x="1135.14895" y="63" font-family="Liberation Sans, sans-serif" font-size="12.5" fill="#787b86" text-anchor="start" font-weight="normal" textLength="56.4" lengthAdjust="spacingAndGlyphs" stroke="#787b86" stroke-width="0.2">0(0.67977)</text>
<text x="1112.47805" y="142" font-family="Liberation Sans, sans-serif" font-size="12.5" fill="#f23645" text-anchor="start" font-weight="normal" textLength="79.0" lengthAdjust="spacingAndGlyphs" stroke="#f23645" stroke-width="0.2">0.236(0.66748)</text>
<text x="1112.47805" y="191" font-family="Liberation Sans, sans-serif" font-size="12.5" fill="#ff9800" text-anchor="start" font-weight="normal" textLength="79.0" lengthAdjust="spacingAndGlyphs" stroke="#ff9800" stroke-width="0.2">0.382(0.65987)</text>
<text x="1125.43285" y="231" font-family="Liberation Sans, sans-serif" font-size="12.5" fill="#4caf50" text-anchor="start" font-weight="normal" textLength="66.1" lengthAdjust="spacingAndGlyphs" stroke="#4caf50" stroke-width="0.2">0.5(0.65373)</text>
<text x="1112.47805" y="271" font-family="Liberation Sans, sans-serif" font-size="12.5" fill="#089981" text-anchor="start" font-weight="normal" textLength="79.0" lengthAdjust="spacingAndGlyphs" stroke="#089981" stroke-width="0.2">0.618(0.64758)</text>
<text x="1112.47805" y="328" font-family="Liberation Sans, sans-serif" font-size="12.5" fill="#00bcd4" text-anchor="start" font-weight="normal" textLength="79.0" lengthAdjust="spacingAndGlyphs" stroke="#00bcd4" stroke-width="0.2">0.786(0.63883)</text>
<text x="1135.14895" y="400" font-family="Liberation Sans, sans-serif" font-size="12.5" fill="#787b86" text-anchor="start" font-weight="normal" textLength="56.4" lengthAdjust="spacingAndGlyphs" stroke="#787b86" stroke-width="0.2">1(0.62768)</text>
<text x="18" y="46" font-family="Liberation Sans, sans-serif" font-size="12" fill="#2a2e39" text-anchor="start" font-weight="normal" textLength="217" lengthAdjust="spacingAndGlyphs">Australian Dollar / U.S. Dollar, 1h, FXCM</text>
<text x="18" y="62.5" font-family="Liberation Sans, sans-serif" font-size="12" fill="#2a2e39" text-anchor="start" font-weight="normal" textLength="100.5" lengthAdjust="spacingAndGlyphs">MA 25/50/100/200</text>
<text x="126" y="62.5" font-family="Liberation Sans, sans-serif" font-size="12" fill="#ff9800" text-anchor="start" font-weight="normal" textLength="41.8" lengthAdjust="spacingAndGlyphs" stroke="#ff9800" stroke-width="0.2">0.67559</text>
<text x="175.8" y="62.5" font-family="Liberation Sans, sans-serif" font-size="12" fill="#4caf50" text-anchor="start" font-weight="normal" textLength="41.8" lengthAdjust="spacingAndGlyphs" stroke="#4caf50" stroke-width="0.2">0.67506</text>
<text x="224.8" y="62.5" font-family="Liberation Sans, sans-serif" font-size="12" fill="#2196f3" text-anchor="start" font-weight="normal" textLength="42" lengthAdjust="spacingAndGlyphs" stroke="#2196f3" stroke-width="0.2">0.66919</text>
<text x="274.3" y="62.5" font-family="Liberation Sans, sans-serif" font-size="12" fill="#f7525f" text-anchor="start" font-weight="normal" textLength="41.8" lengthAdjust="spacingAndGlyphs" stroke="#f7525f" stroke-width="0.2">0.67003</text>
<rect x="1200" y="28" width="63" height="414" fill="#fff"/>
<text x="1210.4" y="45" font-family="Liberation Sans, sans-serif" font-size="11.5" fill="#131722" text-anchor="start" font-weight="normal" textLength="20" lengthAdjust="spacingAndGlyphs">USD</text>
<text x="1210" y="71.95000000000002" font-family="Liberation Sans, sans-serif" font-size="12.8" fill="#131722" text-anchor="start" font-weight="normal" textLength="41.7" lengthAdjust="spacingAndGlyphs">0.68000</text>
<text x="1210" y="104.30000000000001" font-family="Liberation Sans, sans-serif" font-size="12.8" fill="#131722" text-anchor="start" font-weight="normal" textLength="41.7" lengthAdjust="spacingAndGlyphs">0.67500</text>
<text x="1210" y="169.00000000000003" font-family="Liberation Sans, sans-serif" font-size="12.8" fill="#131722" text-anchor="start" font-weight="normal" textLength="41.7" lengthAdjust="spacingAndGlyphs">0.66500</text>
<text x="1210" y="201.35" font-family="Liberation Sans, sans-serif" font-size="12.8" fill="#131722" text-anchor="start" font-weight="normal" textLength="41.7" lengthAdjust="spacingAndGlyphs">0.66000</text>
<text x="1210" y="233.70000000000002" font-family="Liberation Sans, sans-serif" font-size="12.8" fill="#131722" text-anchor="start" font-weight="normal" textLength="41.7" lengthAdjust="spacingAndGlyphs">0.65500</text>
<text x="1210" y="266.05" font-family="Liberation Sans, sans-serif" font-size="12.8" fill="#131722" text-anchor="start" font-weight="normal" textLength="41.7" lengthAdjust="spacingAndGlyphs">0.65000</text>
<text x="1210" y="298.4" font-family="Liberation Sans, sans-serif" font-size="12.8" fill="#131722" text-anchor="start" font-weight="normal" textLength="41.7" lengthAdjust="spacingAndGlyphs">0.64500</text>
<text x="1210" y="330.75" font-family="Liberation Sans, sans-serif" font-size="12.8" fill="#131722" text-anchor="start" font-weight="normal" textLength="41.7" lengthAdjust="spacingAndGlyphs">0.64000</text>
<text x="1210" y="363.09999999999997" font-family="Liberation Sans, sans-serif" font-size="12.8" fill="#131722" text-anchor="start" font-weight="normal" textLength="41.7" lengthAdjust="spacingAndGlyphs">0.63500</text>
<text x="1210" y="395.45" font-family="Liberation Sans, sans-serif" font-size="12.8" fill="#131722" text-anchor="start" font-weight="normal" textLength="41.7" lengthAdjust="spacingAndGlyphs">0.63000</text>
<text x="1210" y="427.8" font-family="Liberation Sans, sans-serif" font-size="12.8" fill="#131722" text-anchor="start" font-weight="normal" textLength="41.7" lengthAdjust="spacingAndGlyphs">0.62500</text>
<path d="M1200 114 H1257 Q1259 114 1259 116 V129 Q1259 131 1257 131 H1200 Z" fill="#673ab7"/>
<path d="M1200 131 H1257 Q1259 131 1259 133 V145.6 Q1259 147.6 1257 147.6 H1200 Z" fill="#2962ff"/>
<text x="1209.7" y="127" font-family="Liberation Sans, sans-serif" font-size="12.6" fill="#fff" text-anchor="start" font-weight="bold" textLength="42.6" lengthAdjust="spacingAndGlyphs">0.66999</text>
<text x="1209.7" y="143.8" font-family="Liberation Sans, sans-serif" font-size="12.6" fill="#fff" text-anchor="start" font-weight="bold" textLength="42.6" lengthAdjust="spacingAndGlyphs">0.66890</text>
<text x="54.3" y="460.9" font-family="Liberation Sans, sans-serif" font-size="12.8" fill="#131722" text-anchor="start" font-weight="normal" textLength="6.4" lengthAdjust="spacingAndGlyphs">3</text>
<text x="180.3" y="460.9" font-family="Liberation Sans, sans-serif" font-size="12.8" fill="#131722" text-anchor="start" font-weight="normal" textLength="6.7" lengthAdjust="spacingAndGlyphs" stroke="#131722" stroke-width="0.3">7</text>
<text x="307.0" y="460.9" font-family="Liberation Sans, sans-serif" font-size="12.8" fill="#131722" text-anchor="start" font-weight="normal" textLength="6.4" lengthAdjust="spacingAndGlyphs">9</text>
<text x="390.2" y="460.9" font-family="Liberation Sans, sans-serif" font-size="12.8" fill="#131722" text-anchor="start" font-weight="normal" textLength="28.8" lengthAdjust="spacingAndGlyphs">12:00</text>
<text x="493.0" y="460.9" font-family="Liberation Sans, sans-serif" font-size="12.8" fill="#131722" text-anchor="start" font-weight="normal" textLength="13.4" lengthAdjust="spacingAndGlyphs" stroke="#131722" stroke-width="0.3">14</text>
<text x="620.5" y="460.9" font-family="Liberation Sans, sans-serif" font-size="12.8" fill="#131722" text-anchor="start" font-weight="normal" textLength="12.8" lengthAdjust="spacingAndGlyphs">16</text>
<text x="706.0" y="460.9" font-family="Liberation Sans, sans-serif" font-size="12.8" fill="#131722" text-anchor="start" font-weight="normal" textLength="28.8" lengthAdjust="spacingAndGlyphs">12:00</text>
<text x="808.9" y="460.9" font-family="Liberation Sans, sans-serif" font-size="12.8" fill="#131722" text-anchor="start" font-weight="normal" textLength="13.4" lengthAdjust="spacingAndGlyphs" stroke="#131722" stroke-width="0.3">21</text>
<text x="935.1" y="460.9" font-family="Liberation Sans, sans-serif" font-size="12.8" fill="#131722" text-anchor="start" font-weight="normal" textLength="12.8" lengthAdjust="spacingAndGlyphs">23</text>
<text x="1021.9" y="460.9" font-family="Liberation Sans, sans-serif" font-size="12.8" fill="#131722" text-anchor="start" font-weight="normal" textLength="28.8" lengthAdjust="spacingAndGlyphs">12:00</text>
<text x="1124.7" y="460.9" font-family="Liberation Sans, sans-serif" font-size="12.8" fill="#131722" text-anchor="start" font-weight="normal" textLength="13.4" lengthAdjust="spacingAndGlyphs" stroke="#131722" stroke-width="0.3">28</text>
<text x="10" y="18.8" font-family="Liberation Sans, sans-serif" font-size="13" fill="#2a2e39" text-anchor="start" font-weight="normal" textLength="359.5" lengthAdjust="spacingAndGlyphs">SamerHa published on TradingView.com, Nov 25, 2022 13:12 UTC-5</text>
<g fill="#131722">
<path d="M10 483 H17.9 V493 H14.1 V486.7 H10 Z"/>
<circle cx="21" cy="485" r="1.9"/>
<path d="M24.6 483 H29.6 L25.8 493 H21.2 Z"/>
</g>
<text x="33" y="492.6" font-family="Liberation Sans, sans-serif" font-size="12.5" fill="#3a3e4a" text-anchor="start" font-weight="normal" textLength="70" lengthAdjust="spacingAndGlyphs">TradingView</text>
</svg></body></html>
